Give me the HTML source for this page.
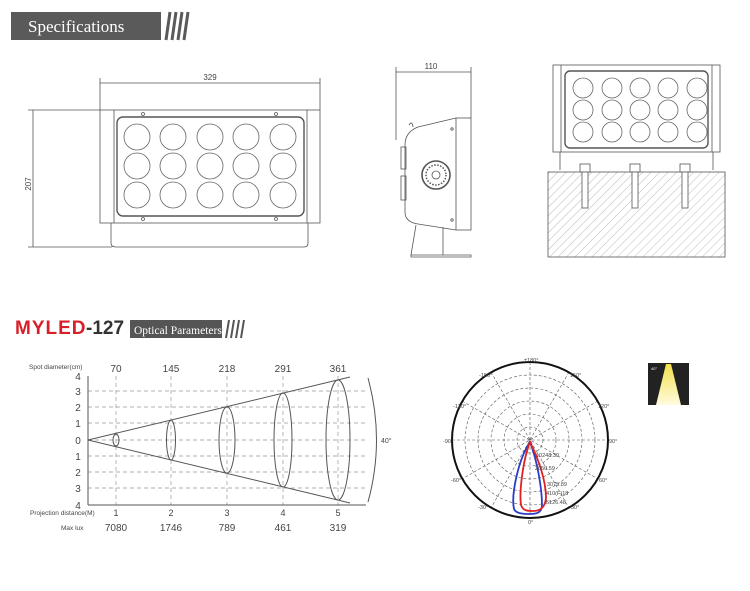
<!DOCTYPE html>
<html><head><meta charset="utf-8"><style>
body{margin:0;background:#fff;width:750px;height:591px;overflow:hidden}
svg{display:block}
text{font-family:"Liberation Sans",sans-serif;fill:#444}
</style></head><body>
<svg width="750" height="591" viewBox="0 0 750 591" xmlns="http://www.w3.org/2000/svg">
<defs>
<pattern id="h" width="6" height="6" patternUnits="userSpaceOnUse" patternTransform="rotate(45)"><line x1="0" y1="0" x2="0" y2="6" stroke="#bbb" stroke-width="1"/></pattern>
<linearGradient id="yl" x1="0" y1="0" x2="0" y2="1"><stop offset="0" stop-color="#f4e04a"/><stop offset="1" stop-color="#fffbe0"/></linearGradient>
</defs>
<rect x="11" y="12" width="150" height="28" fill="#5a5a5a"/>
<text x="28" y="32" font-size="17" style="fill:#fff;font-family:'Liberation Serif',serif">Specifications</text>
<g stroke="#5a5a5a" stroke-width="3"><line x1="166" y1="40" x2="170" y2="12"/><line x1="172" y1="40" x2="176" y2="12"/><line x1="178" y1="40" x2="182" y2="12"/><line x1="184" y1="40" x2="188" y2="12"/></g>

<g fill="none" stroke="#555" stroke-width="0.8">
<line x1="100" y1="78" x2="100" y2="110"/><line x1="320" y1="78" x2="320" y2="110"/>
<line x1="100" y1="83" x2="320" y2="83"/>
<line x1="28" y1="110" x2="100" y2="110"/><line x1="28" y1="247" x2="112" y2="247"/>
<line x1="33" y1="110" x2="33" y2="247"/>
<rect x="100" y="110" width="220" height="113"/>
<line x1="114" y1="110" x2="114" y2="223"/><line x1="307" y1="110" x2="307" y2="223"/>
<rect x="117" y="117" width="187" height="99" rx="6" stroke-width="1.4"/>
<circle cx="143" cy="114" r="1.5"/><circle cx="276" cy="114" r="1.5"/><circle cx="143" cy="219" r="1.5"/><circle cx="276" cy="219" r="1.5"/>
<path d="M111 223 V243 Q111 247 116 247 H304 Q308 247 308 243 V223"/>
<line x1="396" y1="67" x2="396" y2="140"/><line x1="471" y1="67" x2="471" y2="118"/>
<line x1="396" y1="72" x2="471" y2="72"/>
<rect x="456" y="118" width="15" height="112"/>
<path d="M456 118 L418 127 Q405 132 405 145 V212 Q405 222 418 224 L456 230"/>
<path d="M409 125 Q412 120 413 127"/>
<rect x="401" y="147" width="5" height="22"/><rect x="401" y="176" width="5" height="24"/>
<circle cx="436" cy="175" r="14" stroke-width="1.6"/><circle cx="436" cy="175" r="10" stroke-dasharray="1.5,1.5" stroke-width="1.5"/><circle cx="436" cy="175" r="4"/>
<circle cx="452" cy="129" r="1.2"/><circle cx="452" cy="220" r="1.2"/>
<path d="M416 225 L411 255 H443 V227"/><path d="M411 255 V257 H471 V255 H443"/>
<rect x="553" y="65" width="167" height="87"/>
<line x1="561" y1="65" x2="561" y2="152"/><line x1="712" y1="65" x2="712" y2="152"/>
<rect x="565" y="71" width="143" height="77" rx="5" stroke-width="1.4"/>
<path d="M560 152 V170 M713 152 V170"/>
<rect x="548" y="172" width="177" height="85" fill="url(#h)"/>
<rect x="580" y="164" width="10" height="8" fill="#fff"/><rect x="582" y="172" width="6" height="36" fill="#fff"/>
<rect x="630" y="164" width="10" height="8" fill="#fff"/><rect x="632" y="172" width="6" height="36" fill="#fff"/>
<rect x="680" y="164" width="10" height="8" fill="#fff"/><rect x="682" y="172" width="6" height="36" fill="#fff"/>
</g>
<g fill="none" stroke="#666" stroke-width="0.8">
<circle cx="137" cy="137" r="13"/><circle cx="173" cy="137" r="13"/><circle cx="210" cy="137" r="13"/><circle cx="246" cy="137" r="13"/><circle cx="283" cy="137" r="13"/>
<circle cx="137" cy="166" r="13"/><circle cx="173" cy="166" r="13"/><circle cx="210" cy="166" r="13"/><circle cx="246" cy="166" r="13"/><circle cx="283" cy="166" r="13"/>
<circle cx="137" cy="195" r="13"/><circle cx="173" cy="195" r="13"/><circle cx="210" cy="195" r="13"/><circle cx="246" cy="195" r="13"/><circle cx="283" cy="195" r="13"/>
<circle cx="583" cy="88" r="10"/><circle cx="612" cy="88" r="10"/><circle cx="640" cy="88" r="10"/><circle cx="668" cy="88" r="10"/><circle cx="697" cy="88" r="10"/>
<circle cx="583" cy="110" r="10"/><circle cx="612" cy="110" r="10"/><circle cx="640" cy="110" r="10"/><circle cx="668" cy="110" r="10"/><circle cx="697" cy="110" r="10"/>
<circle cx="583" cy="132" r="10"/><circle cx="612" cy="132" r="10"/><circle cx="640" cy="132" r="10"/><circle cx="668" cy="132" r="10"/><circle cx="697" cy="132" r="10"/>
</g>
<text x="210" y="80" font-size="8" text-anchor="middle">329</text>
<text x="431" y="69" font-size="8" text-anchor="middle">110</text>
<text x="0" y="0" font-size="8" text-anchor="middle" transform="translate(31,184) rotate(-90)">207</text>

<text x="15" y="334" font-size="19" font-weight="bold" style="fill:#d8202a;letter-spacing:1px">MYLED</text>
<text x="86" y="334" font-size="19" font-weight="bold" style="fill:#333">-127</text>
<rect x="130" y="320" width="92" height="18" fill="#555"/>
<text x="134" y="334" font-size="11.5" style="fill:#fff;font-family:'Liberation Serif',serif">Optical Parameters</text>
<g stroke="#555" stroke-width="2"><line x1="226" y1="338" x2="229" y2="320"/><line x1="231" y1="338" x2="234" y2="320"/><line x1="236" y1="338" x2="239" y2="320"/><line x1="241" y1="338" x2="244" y2="320"/></g>

<g stroke="#999" stroke-width="0.7" stroke-dasharray="4,3">
<line x1="88" y1="391" x2="366" y2="391"/><line x1="88" y1="407" x2="366" y2="407"/><line x1="88" y1="423" x2="366" y2="423"/><line x1="88" y1="440" x2="366" y2="440"/><line x1="88" y1="456" x2="366" y2="456"/><line x1="88" y1="472" x2="366" y2="472"/><line x1="88" y1="488" x2="366" y2="488"/>
<line x1="116" y1="376" x2="116" y2="505"/><line x1="171" y1="376" x2="171" y2="505"/><line x1="227" y1="376" x2="227" y2="505"/><line x1="283" y1="376" x2="283" y2="505"/><line x1="338" y1="376" x2="338" y2="505"/>
</g>
<g fill="none" stroke="#555" stroke-width="1">
<line x1="88" y1="376" x2="88" y2="505"/><line x1="88" y1="505" x2="366" y2="505"/>
<line x1="88" y1="440" x2="350" y2="377"/><line x1="88" y1="440" x2="350" y2="503"/>
<ellipse cx="116" cy="440" rx="3" ry="6"/><ellipse cx="171" cy="440" rx="4.5" ry="20"/><ellipse cx="227" cy="440" rx="8" ry="33"/><ellipse cx="283" cy="440" rx="9" ry="47"/><ellipse cx="338" cy="440" rx="12" ry="60"/>
<path d="M368 378 Q385 440 368 502"/>
</g>
<g font-size="10" text-anchor="middle">
<text x="78" y="380">4</text><text x="78" y="395">3</text><text x="78" y="411">2</text><text x="78" y="427">1</text><text x="78" y="444">0</text><text x="78" y="460">1</text><text x="78" y="476">2</text><text x="78" y="492">3</text><text x="78" y="509">4</text>
<text x="116" y="372">70</text><text x="171" y="372">145</text><text x="227" y="372">218</text><text x="283" y="372">291</text><text x="338" y="372">361</text>
<text x="116" y="516" font-size="9">1</text><text x="171" y="516" font-size="9">2</text><text x="227" y="516" font-size="9">3</text><text x="283" y="516" font-size="9">4</text><text x="338" y="516" font-size="9">5</text>
<text x="116" y="531">7080</text><text x="171" y="531">1746</text><text x="227" y="531">789</text><text x="283" y="531">461</text><text x="338" y="531">319</text>
</g>
<text x="29" y="369" font-size="6.5">Spot diameter(cm)</text>
<text x="30" y="515" font-size="6.5">Projection distance(M)</text>
<text x="61" y="530" font-size="6.5">Max lux</text>
<text x="381" y="443" font-size="7">40°</text>

<g fill="none" stroke="#555" stroke-width="0.6" stroke-dasharray="3,2">
<circle cx="530" cy="440" r="13"/><circle cx="530" cy="440" r="26"/><circle cx="530" cy="440" r="39"/><circle cx="530" cy="440" r="52"/><circle cx="530" cy="440" r="65"/>
<line x1="452" y1="440" x2="608" y2="440"/><line x1="530" y1="362" x2="530" y2="518"/>
<line x1="491" y1="372" x2="569" y2="508"/><line x1="569" y1="372" x2="491" y2="508"/>
<line x1="462" y1="401" x2="598" y2="479"/><line x1="598" y1="401" x2="462" y2="479"/>
</g>
<circle cx="530" cy="440" r="78" fill="none" stroke="#111" stroke-width="2"/>
<path d="M530 442 C518 460 511 495 514 509 C516 514 525 514 530 514 C536 514 542 513 542 505 C542 488 537 460 530 442Z" fill="none" stroke="#2a3fc8" stroke-width="1.8"/>
<path d="M530 442 C523 460 519 492 521 505 C523 511 528 511 533 511 C540 511 545 508 546 498 C546 480 538 458 530 442Z" fill="none" stroke="#e02020" stroke-width="1.8"/>
<g font-size="5.5" style="fill:#333">
<text x="524" y="362">±180°</text><text x="479" y="377">-150°</text><text x="570" y="377">150°</text>
<text x="453" y="408">-120°</text><text x="598" y="408">120°</text>
<text x="443" y="443">-90°</text><text x="609" y="443">90°</text>
<text x="451" y="482">-60°</text><text x="599" y="482">60°</text>
<text x="478" y="509">-30°</text><text x="571" y="509">30°</text>
<text x="528" y="524">0°</text>
<text x="536" y="457">10248.30</text><text x="535" y="470">2050.59</text><text x="547" y="486">3075.89</text><text x="546" y="495">410(F)18</text><text x="546" y="504">5126.48</text>
</g>
<rect x="648" y="363" width="41" height="42" fill="#222"/>
<polygon points="666,364 671,364 681,405 656,405" fill="url(#yl)"/>
<text x="651" y="370" font-size="4" style="fill:#fff">40°</text>
</svg>
</body></html>
